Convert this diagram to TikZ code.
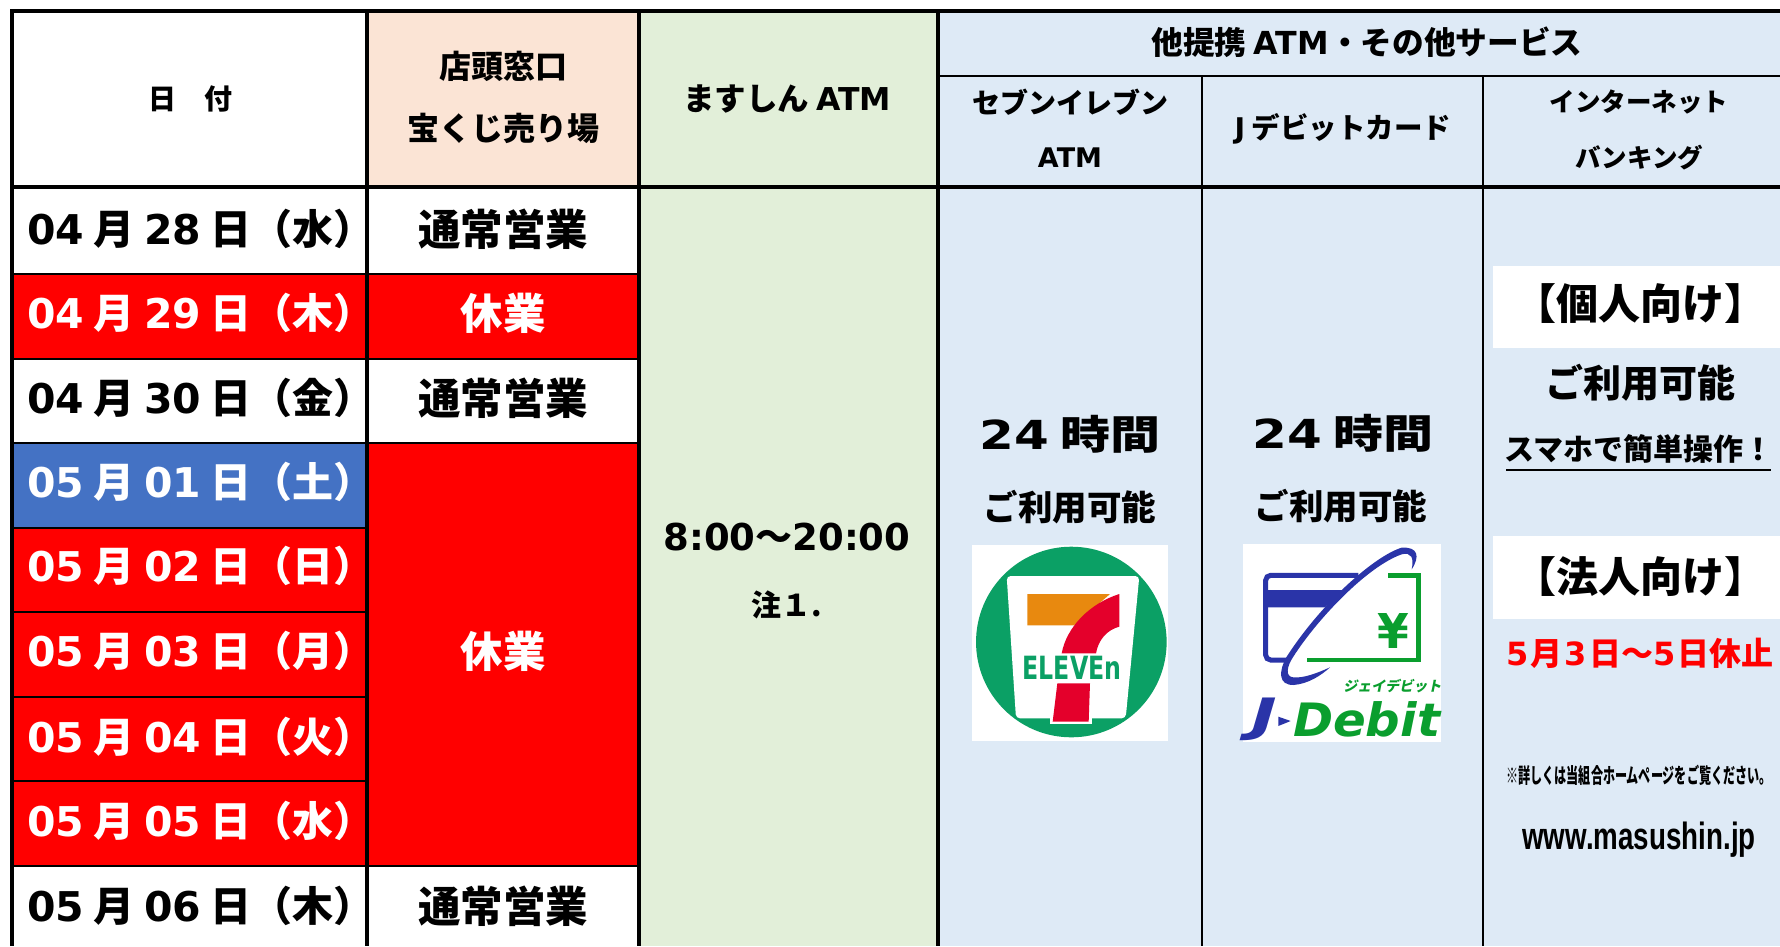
\documentclass[tikz,border=0pt]{standalone}
\usepackage{fontspec}
\setmainfont{Noto Sans CJK JP}
\newfontfamily\latn{DejaVu Sans}
\newfontfamily\lib{Liberation Sans}
\newcommand\fs[1]{\fontsize{#1}{#1}\selectfont\bfseries}
\definecolor{peach}{HTML}{FBE4D5}
\definecolor{pale}{HTML}{E2EFD9}
\definecolor{sky}{HTML}{DEEAF6}
\definecolor{hred}{HTML}{FF0000}
\definecolor{hblue}{HTML}{4472C4}
\definecolor{sevgreen}{HTML}{0BA065}
\definecolor{sevorange}{HTML}{E8890F}
\definecolor{sevred}{HTML}{E4002B}
\definecolor{jblue}{HTML}{2A34A8}
\definecolor{jgreen}{HTML}{0A9E2E}
\tikzset{
  txt/.style={inner sep=0pt,outer sep=0pt,text=black,anchor=center},
  datecell/.style={txt,font=\fs{41}},
  statuscell/.style={txt,font=\fs{42.5}},
  heavy/.style={line width=4pt,black},
  thin rule/.style={line width=2pt,black},
}
\newcommand\datetext[3]{{\latn #1} 月 {\latn #2} 日（#3）}
\begin{document}
\begin{tikzpicture}[x=1pt,y=-1pt]
\useasboundingbox (0,0) rectangle (1780,946);
\fill[white] (0,0) rectangle (1780,946);
% fills
\fill[peach] (367,11) rectangle (639,187);
\fill[pale] (639,11) rectangle (937.5,946);
\fill[sky] (937.5,11) rectangle (1780,946);
\fill[hred] (12,273.5) rectangle (639,358.7);
\fill[hblue] (12,442.7) rectangle (367,528);
\fill[hred] (12,528) rectangle (367,866);
\fill[hred] (367,442.7) rectangle (639,866);
% white panels
\fill[white] (1493,266) rectangle (1780,348);
\fill[white] (1493,536) rectangle (1780,619);
% rules
\foreach \yy in {273.5,358.7,442.7,528,612,697,781,866}
  \draw[thin rule] (12,\yy) -- (367,\yy);
\foreach \yy in {273.5,358.7,442.7,866}
  \draw[thin rule] (367,\yy) -- (639,\yy);
\draw[thin rule] (937.5,76) -- (1780,76);
\draw[thin rule] (1202,76) -- (1202,946);
\draw[thin rule] (1482.5,76) -- (1482.5,946);
\draw[heavy] (12,11) -- (1780,11);
\draw[heavy] (12,187) -- (1780,187);
\draw[heavy] (12,9) -- (12,946);
\draw[heavy] (367,11) -- (367,946);
\draw[heavy] (639,11) -- (639,946);
\draw[heavy] (937.5,11) -- (937.5,946);
% header
\node[txt,font=\fs{28}] (hdate) at (190,99) {日　付};
\node[txt,font=\fs{32}] (hshop1) at (503,66) {店頭窓口};
\node[txt,font=\fs{32}] (hshop2) at (503,128) {宝くじ売り場};
\node[txt,font=\fs{31.5}] (hatm) at (787,99) {ますしん {\latn ATM}};
\node[txt,font=\fs{31.7}] (hother) at (1367,42) {他提携 {\latn ATM}・その他サービス};
\node[txt,font=\fs{28}] (hseven1) at (1070,102) {セブンイレブン};
\node[txt,font=\fs{27}] (hseven2) at (1070,158) {\latn ATM};
\node[txt,font=\fs{28.5}] (hj) at (1343,129) {{\latn J} デビットカード};
\node[txt,font=\fs{25.5}] (hnet1) at (1639,102) {インターネット};
\node[txt,font=\fs{25.5}] (hnet2) at (1639,158) {バンキング};
% date column
\node[datecell] (d1) at (201,229) {\datetext{04}{28}{水}};
\node[datecell,text=white] (d2) at (201,313) {\datetext{04}{29}{木}};
\node[datecell] (d3) at (201,398) {\datetext{04}{30}{金}};
\node[datecell,text=white] (d4) at (201,482) {\datetext{05}{01}{土}};
\node[datecell,text=white] (d5) at (201,566) {\datetext{05}{02}{日}};
\node[datecell,text=white] (d6) at (201,651) {\datetext{05}{03}{月}};
\node[datecell,text=white] (d7) at (201,737) {\datetext{05}{04}{火}};
\node[datecell,text=white] (d8) at (201,821) {\datetext{05}{05}{水}};
\node[datecell] (d9) at (201,906) {\datetext{05}{06}{木}};
% status column
\node[statuscell] (s1) at (503,229) {通常営業};
\node[statuscell,text=white] (s2) at (503,313) {休業};
\node[statuscell] (s3) at (503,398) {通常営業};
\node[statuscell,text=white] (s4) at (503,651) {休業};
\node[statuscell] (s5) at (503,906) {通常営業};
% ATM column
\node[txt,font=\fs{37}] (atm1) at (787,537) {{\latn 8:00}～{\latn 20:00}};
\node[txt,font=\fs{30}] (atm2) at (787,605) {注１.};
% seven / jdebit text
\node[txt,font=\fs{40},xscale=1.25] (t241) at (1070,434) {{\latn 24} 時間};
\node[txt,font=\fs{34.5}] (av1) at (1070,507) {ご利用可能};
\node[txt,font=\fs{40},xscale=1.25] (t242) at (1343,433) {{\latn 24} 時間};
\node[txt,font=\fs{34.5}] (av2) at (1341,506) {ご利用可能};
% internet column
\node[txt,font=\fs{42}] (n1) at (1640,304) {【個人向け】};
\node[txt,font=\fs{38}] (n2) at (1640,383) {ご利用可能};
\node[txt,font=\fs{30}] (n3) at (1639,449) {スマホで簡単操作！};
\draw[line width=1.8pt,black] (1506,470) -- (1771,470);
\node[txt,font=\fs{42}] (n4) at (1640,577) {【法人向け】};
\node[txt,font=\fs{32},text=hred] (n5) at (1640,653) {{\latn 5}\hspace{2pt}月\hspace{2pt}{\latn 3}\hspace{2pt}日～{\latn 5}\hspace{2pt}日休止};
\node[txt,font=\fs{21},xscale=.575] (n6) at (1639,775) {※詳しくは当組合ホームページをご覧ください。};
\node[txt,font={\lib\fs{38}},xscale=.73] (n7) at (1639,840) {www.masushin.jp};
% 7-Eleven logo
\begin{scope}[shift={(950,520)},x=.33333pt,y=-.33333pt]
\fill[white] (66,75) rectangle (654,662);
\fill[sevgreen] (364,366) circle[radius=95.3pt];
\fill[white,rounded corners=4pt] (170,168) -- (568,168) -- (527,595) -- (198,595) -- cycle;
\fill[sevorange] (232,222) -- (480,222) -- (372,316) -- (232,316) -- cycle;
\fill[sevred] (508,222) -- (508,320) .. controls (470,330) and (445,360) .. (438,400) -- (335,400) .. controls (350,320) and (420,250) .. (508,222) -- cycle;
\fill[white] (300,595) rectangle (425,612);
\fill[sevred] (322,490) -- (420,490) -- (416,605) -- (308,605) -- cycle;
\node[txt,font={\latn\fs{32}},text=sevgreen,xscale=.74] (sevtext) at (366,444) {ELEVEn};
\end{scope}
% J-Debit logo
\begin{scope}[shift={(950,520)},x=.33333pt,y=-.33333pt]
\fill[white] (879,72) rectangle (1473,665);
\draw[jblue,line width=5pt,rounded corners=5pt] (1225,166) -- (947,166) -- (947,420) -- (1010,420);
\fill[jblue] (950,210) -- (1180,210) -- (1125,262) -- (950,262) -- cycle;
\draw[jgreen,line width=4.5pt] (1315,166) -- (1405,166) -- (1405,420) -- (1070,420);
\fill[jblue] (1385,148) .. controls (1410,110) and (1405,80) .. (1355,83)
  .. controls (1280,105) and (1120,240) .. (1010,410)
  .. controls (985,455) and (985,495) .. (1030,495)
  .. controls (1075,492) and (1115,465) .. (1140,442)
  .. controls (1100,460) and (1060,475) .. (1030,472)
  .. controls (1005,470) and (1010,440) .. (1030,410)
  .. controls (1100,300) and (1250,140) .. (1355,103)
  .. controls (1385,95) and (1392,115) .. (1385,148) -- cycle;
\node[txt,font={\latn\fs{48}},text=jgreen,xscale=.95] (yen) at (1330,333) {¥};
\node[txt,font=\fs{14},text=jgreen,xslant=.2] (jkana) at (1330,497) {ジェイデビット};
\node[txt,font={\latn\itshape\fs{46}},text=jblue,xscale=1.5] (jj) at (942,598) {J};
\fill[jblue] (985,590) -- (1022,603) -- (985,618) -- cycle;
\node[txt,font={\latn\itshape\fs{46}},text=jgreen,xscale=1.05] (jdebit) at (1250,597) {Debit};
\end{scope}
\end{tikzpicture}
\end{document}
